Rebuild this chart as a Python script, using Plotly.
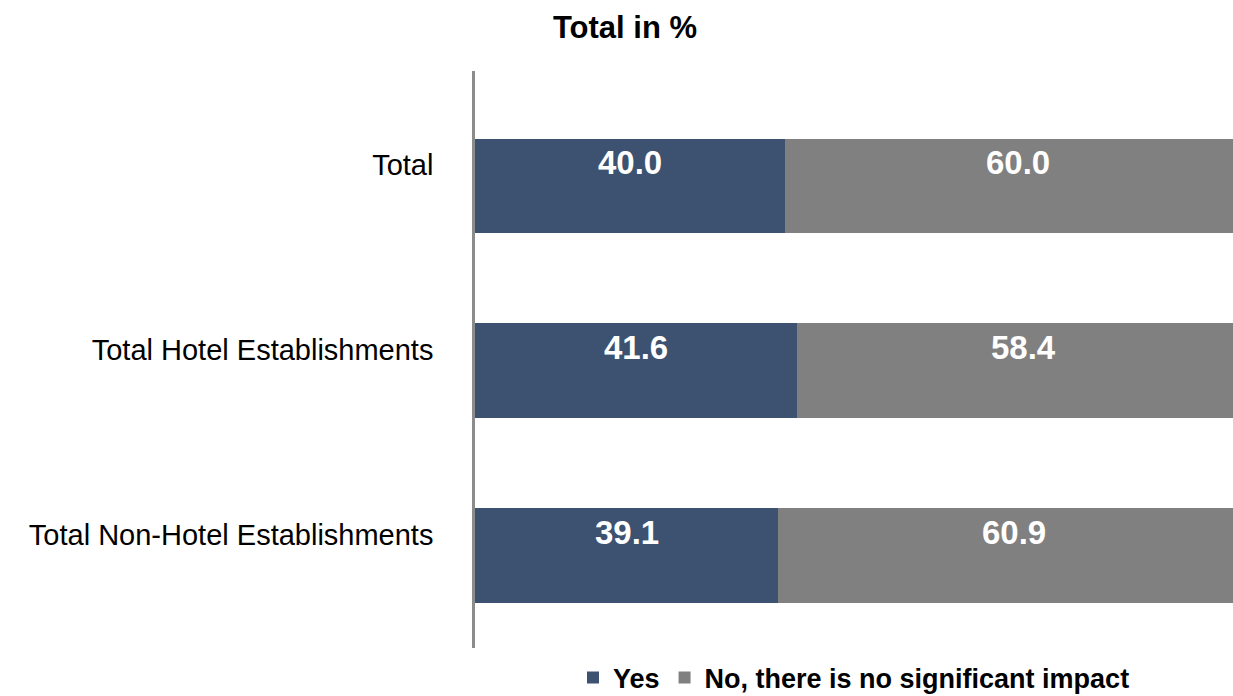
import plotly.graph_objects as go

categories = ["Total", "Total Hotel Establishments", "Total Non-Hotel Establishments"]
yes_values = [40.0, 41.6, 39.1]
no_values = [60.0, 58.4, 60.9]
series_names = ["Yes", "No, there is no significant impact"]
colors = ["#3D5170", "#808080"]
title_text = "Total in %"

FONT = "Liberation Sans, Arial, sans-serif"

fig = go.Figure()
fig.add_trace(go.Bar(y=categories, x=yes_values, name=series_names[0], orientation="h",
                     marker=dict(color=colors[0], line=dict(width=0))))
fig.add_trace(go.Bar(y=categories, x=no_values, name=series_names[1], orientation="h",
                     marker=dict(color=colors[1], line=dict(width=0))))

for cat, y, n in zip(categories, yes_values, no_values):
    fig.add_annotation(x=y / 2, y=cat, text=f"<b>{y:.1f}</b>", showarrow=False,
                       yshift=23, font=dict(family=FONT, size=33, color="white"))
    fig.add_annotation(x=y + n / 2, y=cat, text=f"<b>{n:.1f}</b>", showarrow=False,
                       yshift=23, font=dict(family=FONT, size=33, color="white"))

fig.update_layout(
    width=1233, height=696,
    barmode="stack", bargap=0.49,
    plot_bgcolor="white", paper_bgcolor="white",
    margin=dict(l=475, r=0, t=71, b=48, autoexpand=False),
    title=dict(text=f"<b>{title_text}</b>", x=(625) / 1233, xanchor="center",
               y=1 - 27 / 696, yanchor="middle",
               font=dict(family=FONT, size=31, color="black")),
    showlegend=True,
    legend=dict(orientation="h", x=0.50, xanchor="center", y=-0.052, yanchor="middle",
                font=dict(family=FONT, size=27, color="black", weight="bold"),
                traceorder="normal", itemwidth=30),
    font=dict(family=FONT),
)
fig.update_xaxes(range=[0, 97.8], showgrid=False, showticklabels=False, zeroline=False,
                 showline=False, ticks="")
fig.update_yaxes(range=[2.5, -0.62], showgrid=False, showline=True, linecolor="#8C8C8C",
                 linewidth=2.5, ticks="", ticklabelstandoff=33, ticklabelshift=21,
                 tickfont=dict(family=FONT, size=29, color="black"))

fig.write_html("out.html")
